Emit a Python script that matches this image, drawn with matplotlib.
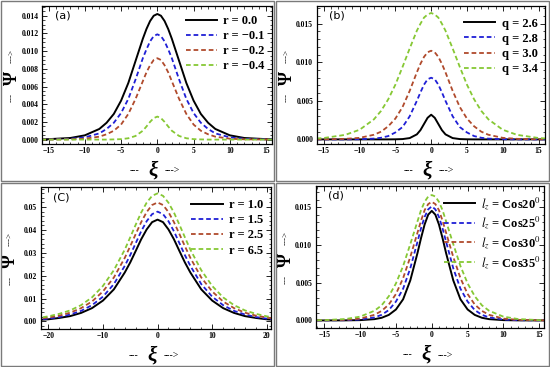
import matplotlib
matplotlib.use("Agg")
import matplotlib.pyplot as plt
import numpy as np
from matplotlib.ticker import MultipleLocator, FormatStrFormatter
from matplotlib.patches import Rectangle

# curves are symmetric about xi = 0, values read for xi >= 0
xi_half = [0, 0.5, 1, 1.5, 2, 3, 4, 5, 6, 7, 8, 10, 12, 15, 16]
xi_half_c = [0, 1, 2, 3, 4, 5, 6, 8, 10, 12, 14, 16, 18, 20, 21]

# (a) r
labels_a = ["r = 0.0", "r = \u22120.1", "r = \u22120.2", "r = \u22120.4"]
a_black = [0.0142, 0.0140, 0.0134, 0.0125, 0.0114, 0.0089, 0.0064, 0.0044, 0.0029, 0.0019, 0.0012, 0.00048, 0.00018, 0.00005, 0.00003]
a_blue = [0.0119, 0.0117, 0.0111, 0.0102, 0.0092, 0.0068, 0.0046, 0.0030, 0.0019, 0.0012, 0.0007, 0.00025, 0.00009, 0.00002, 0.00001]
a_red = [0.0092, 0.0090, 0.0084, 0.0076, 0.0066, 0.0046, 0.0029, 0.0017, 0.0010, 0.0006, 0.00033, 0.0001, 0.00003, 0.00001, 0.0]
a_green = [0.0026, 0.00243, 0.0020, 0.00148, 0.0010, 0.00041, 0.00015, 0.00005, 0.00002, 0.0, 0.0, 0.0, 0.0, 0.0, 0.0]

# (b) q
labels_b = ["q = 2.6", "q = 2.8", "q = 3.0", "q = 3.4"]
b_black = [0.0032, 0.0028, 0.0020, 0.0012, 0.00065, 0.00017, 0.00004, 0.00001, 0, 0, 0, 0, 0, 0, 0]
b_blue = [0.0080, 0.0078, 0.0071, 0.0061, 0.0050, 0.0030, 0.0016, 0.0009, 0.00043, 0.00021, 0.0001, 0.00002, 0, 0, 0]
b_red = [0.0115, 0.0113, 0.0107, 0.0098, 0.0087, 0.0063, 0.0042, 0.0027, 0.0017, 0.0010, 0.0006, 0.0002, 0.00007, 0.00001, 0.00001]
b_green = [0.0164, 0.0162, 0.0158, 0.0150, 0.0141, 0.0118, 0.0094, 0.0071, 0.0052, 0.0037, 0.0026, 0.00125, 0.00059, 0.00018, 0.00012]

# (c) r
labels_c = ["r = 1.0", "r = 1.5", "r = 2.5", "r = 6.5"]
c_black = [0.0445, 0.0434, 0.0402, 0.0359, 0.0308, 0.0258, 0.0214, 0.0140, 0.0091, 0.0058, 0.0037, 0.0023, 0.0015, 0.0009, 0.00075]
c_blue = [0.048, 0.0469, 0.0438, 0.0394, 0.0342, 0.0290, 0.0243, 0.0163, 0.0108, 0.0071, 0.0046, 0.0030, 0.0019, 0.0012, 0.0010]
c_red = [0.052, 0.0509, 0.0478, 0.0434, 0.0382, 0.0329, 0.0278, 0.0192, 0.0131, 0.0087, 0.0058, 0.0038, 0.0025, 0.0017, 0.0014]
c_green = [0.056, 0.0549, 0.0519, 0.0476, 0.0423, 0.0368, 0.0314, 0.0224, 0.0155, 0.0105, 0.0071, 0.0048, 0.0033, 0.0022, 0.0018]

# (d) l_z
labels_d = [r"$l_z$ = Cos20$^0$", r"$l_z$ = Cos25$^0$", r"$l_z$ = Cos30$^0$", r"$l_z$ = Cos35$^0$"]
d_black = [0.0145, 0.0140, 0.0127, 0.0109, 0.0089, 0.0053, 0.0028, 0.00145, 0.00073, 0.00035, 0.00017, 0.00004, 0.00001, 0, 0]
d_blue = [0.0151, 0.0147, 0.0137, 0.0122, 0.0104, 0.0069, 0.0042, 0.0025, 0.00137, 0.00074, 0.0004, 0.00012, 0.00003, 0.00001, 0]
d_red = [0.0157, 0.0154, 0.0146, 0.0132, 0.0116, 0.0084, 0.0056, 0.0035, 0.0021, 0.00126, 0.00074, 0.00024, 0.00008, 0.00002, 0.00001]
d_green = [0.0166, 0.0164, 0.0157, 0.0146, 0.0131, 0.0101, 0.0072, 0.0049, 0.0032, 0.0020, 0.00128, 0.0005, 0.00019, 0.00004, 0.00003]

colors = ["black", "#1f1fd6", "#b04a2c", "#86c834"]
serif = "Liberation Serif"
plt.rcParams["mathtext.fontset"] = "stix"


def full(half_x, half_y):
    x = np.array(half_x, dtype=float)
    y = np.array(half_y, dtype=float)
    return np.r_[-x[:0:-1], x], np.r_[y[:0:-1], y]


def draw_panel(ax, half_x, curves, labels, tag, xlim, ylim, xmaj, xmin, ymaj, ymin, yfmt, legend_kw):
    for i, (ys, lab) in enumerate(zip(curves, labels)):
        x, y = full(half_x, ys)
        if i == 0:
            ax.plot(x, y, color=colors[i], lw=1.4, label=lab)
        else:
            ax.plot(x, y, color=colors[i], lw=1.3, ls=(0, (2.6, 1.6)), label=lab)
    ax.set_xlim(*xlim)
    ax.set_ylim(*ylim)
    ax.xaxis.set_major_locator(MultipleLocator(xmaj))
    ax.xaxis.set_minor_locator(MultipleLocator(xmin))
    ax.yaxis.set_major_locator(MultipleLocator(ymaj))
    ax.yaxis.set_minor_locator(MultipleLocator(ymin))
    ax.yaxis.set_major_formatter(FormatStrFormatter(yfmt))
    ax.tick_params(which="both", direction="in", top=True, right=True, labelsize=5.5, pad=2.5)
    ax.tick_params(which="major", length=3.5, width=0.6)
    ax.tick_params(which="minor", length=1.8, width=0.5)
    for t in ax.get_xticklabels() + ax.get_yticklabels():
        t.set_family(serif)
        t.set_weight("bold")
    for s in ax.spines.values():
        s.set_linewidth(0.9)
    ax.text(0.09, 0.93, tag, transform=ax.transAxes, fontsize=8, family="DejaVu Sans", va="center", ha="center")
    ax.legend(frameon=False, prop={"family": serif, "weight": "bold", "size": 9},
              handlelength=2.5, handletextpad=0.5, labelspacing=0.25, borderaxespad=0.2, **legend_kw)
    # axis labels drawn in pieces
    ax.text(0.425, -0.19, "---", transform=ax.transAxes, ha="right", va="center", fontsize=7, family=serif)
    ax.text(0.485, -0.19, "\u03be", transform=ax.transAxes, ha="center", va="center", fontsize=15,
            family=serif, style="italic", weight="bold")
    ax.text(0.535, -0.19, "--->", transform=ax.transAxes, ha="left", va="center", fontsize=7, family=serif)
    ax.text(-0.13, 0.34, "---", transform=ax.transAxes, ha="center", va="center", rotation=90, fontsize=6.5, family=serif)
    ax.text(-0.13, 0.48, "\u03a8", transform=ax.transAxes, ha="center", va="center", rotation=90, fontsize=13,
            family=serif, weight="bold")
    ax.text(-0.13, 0.635, "--->", transform=ax.transAxes, ha="center", va="center", rotation=90, fontsize=6.5, family=serif)


fig = plt.figure(figsize=(5.5, 3.67), dpi=100)
ax_a = fig.add_axes([0.0764, 0.6076, 0.418, 0.376])
ax_b = fig.add_axes([0.5758, 0.6076, 0.415, 0.376])
ax_c = fig.add_axes([0.074, 0.1044, 0.418, 0.385])
ax_d = fig.add_axes([0.574, 0.1063, 0.4156, 0.387])

draw_panel(ax_a, xi_half, [a_black, a_blue, a_red, a_green], labels_a, "(a)",
           (-15.9, 15.8), (-0.0005, 0.0151), 5, 1, 0.002, 0.0005, "%.3f",
           dict(loc="upper right", bbox_to_anchor=(1.0, 0.99)))
draw_panel(ax_b, xi_half, [b_black, b_blue, b_red, b_green], labels_b, "(b)",
           (-16.0, 15.9), (-0.0006, 0.0173), 5, 1, 0.005, 0.001, "%.3f",
           dict(loc="upper right", bbox_to_anchor=(1.0, 0.97)))
draw_panel(ax_c, xi_half_c, [c_black, c_blue, c_red, c_green], labels_c, "(C)",
           (-21.4, 20.7), (-0.0032, 0.0586), 10, 2, 0.01, 0.002, "%.2f",
           dict(loc="upper right", bbox_to_anchor=(1.0, 0.97)))
draw_panel(ax_d, xi_half, [d_black, d_blue, d_red, d_green], labels_d, "(d)",
           (-16.2, 15.7), (-0.001, 0.0178), 5, 1, 0.005, 0.001, "%.3f",
           dict(loc="upper right", bbox_to_anchor=(1.02, 0.99)))

# grey frames around the four panels
for (x0, y0, w, h) in [(1, 1, 273, 180), (276, 1, 273, 180), (1, 183, 273, 183), (276, 183, 273, 183)]:
    fig.add_artist(Rectangle((x0 / 550, 1 - (y0 + h) / 367), w / 550, h / 367, transform=fig.transFigure,
                             fill=False, edgecolor="#7a7a7a", lw=1.0))

fig.savefig("out.png", dpi=100)
